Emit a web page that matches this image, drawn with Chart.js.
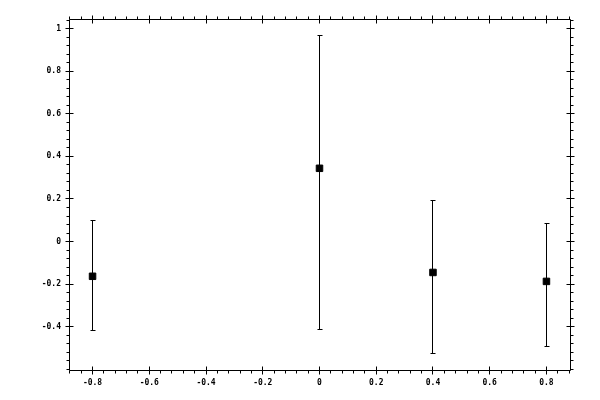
<!DOCTYPE html>
<html>
<head>
<meta charset="utf-8">
<script src="https://cdn.jsdelivr.net/npm/chart.js@4/dist/chart.umd.min.js"></script>
<style>
  html, body { margin: 0; padding: 0; background: #fff; }
  #wrap { width: 600px; height: 400px; }
</style>
</head>
<body>
<div id="wrap"><canvas id="chart"></canvas></div>
<script>
// ---- data ----
const xValues = [-0.8, 0, 0.4, 0.8];
const yValues = [-0.163, 0.344, -0.145, -0.187];
const yLower  = [-0.417, -0.412, -0.525, -0.492];
const yUpper  = [0.0995, 0.968, 0.193, 0.085];

const xTicks = [-0.8, -0.6, -0.4, -0.2, 0, 0.2, 0.4, 0.6, 0.8];
const yTicks = [-0.4, -0.2, 0, 0.2, 0.4, 0.6, 0.8, 1];
const MINOR_STEP = 0.04;

const fmt = v => String(Number(v.toFixed(1)));

// minor tick values between axis bounds
function minorValues(min, max) {
  const out = [];
  const start = Math.ceil(min / MINOR_STEP);
  const end = Math.floor(max / MINOR_STEP);
  for (let i = start; i <= end; i++) out.push(i * MINOR_STEP);
  return out;
}

const crisp = v => Math.floor(v) + 0.5;

// ---- frame, ticks & error bars ----
const framePlugin = {
  id: 'frame',
  afterDatasetsDraw(chart) {
    const { ctx, chartArea: a, scales: { x, y } } = chart;
    const L = crisp(a.left), R = crisp(a.right), T = crisp(a.top), B = crisp(a.bottom);
    ctx.save();
    ctx.strokeStyle = '#000';
    ctx.lineWidth = 1;

    ctx.beginPath();
    ctx.rect(L, T, R - L, B - T);

    const MAJ = 4, MIN = 3;
    minorValues(x.min, x.max).forEach(v => {
      const px = crisp(x.getPixelForValue(v));
      ctx.moveTo(px, B); ctx.lineTo(px, B + MIN);
      ctx.moveTo(px, T); ctx.lineTo(px, T - MIN);
    });
    xTicks.forEach(v => {
      const px = crisp(x.getPixelForValue(v));
      ctx.moveTo(px, B - MAJ); ctx.lineTo(px, B + MAJ);
      ctx.moveTo(px, T - MAJ); ctx.lineTo(px, T + MAJ);
    });
    minorValues(y.min, y.max).forEach(v => {
      const py = crisp(y.getPixelForValue(v));
      ctx.moveTo(L, py); ctx.lineTo(L - MIN, py);
      ctx.moveTo(R, py); ctx.lineTo(R + MIN, py);
    });
    yTicks.forEach(v => {
      const py = crisp(y.getPixelForValue(v));
      ctx.moveTo(L - MAJ, py); ctx.lineTo(L + MAJ, py);
      ctx.moveTo(R - MAJ, py); ctx.lineTo(R + MAJ, py);
    });
    ctx.stroke();

    // error bars with small caps
    ctx.beginPath();
    xValues.forEach((xv, i) => {
      const px = crisp(x.getPixelForValue(xv));
      const lo = crisp(y.getPixelForValue(yLower[i]));
      const hi = crisp(y.getPixelForValue(yUpper[i]));
      ctx.moveTo(px, lo); ctx.lineTo(px, hi);
      ctx.moveTo(px - 2, lo); ctx.lineTo(px + 3, lo);
      ctx.moveTo(px - 2, hi); ctx.lineTo(px + 3, hi);
    });
    ctx.stroke();
    ctx.restore();
  }
};

const tickFont = { family: 'DejaVu Sans Mono', size: 8, weight: 'bold' };

new Chart(document.getElementById('chart'), {
  type: 'scatter',
  data: {
    datasets: [{
      data: xValues.map((xv, i) => ({ x: xv, y: yValues[i] })),
      pointStyle: 'rect',
      pointRadius: 4.6,
      pointHoverRadius: 4.6,
      backgroundColor: '#000',
      borderColor: '#000',
      borderWidth: 1,
    }]
  },
  options: {
    responsive: true,
    maintainAspectRatio: false,
    animation: false,
    layout: { padding: { top: 19, right: 30, left: 0, bottom: 0 } },
    plugins: { legend: { display: false }, tooltip: { enabled: false } },
    scales: {
      x: {
        type: 'linear',
        min: -0.883,
        max: 0.883,
        grid: { display: false, drawTicks: false },
        border: { display: false },
        afterBuildTicks: s => { s.ticks = xTicks.map(v => ({ value: v })); },
        afterFit: s => { s.height = 30; },
        ticks: { color: '#000', font: tickFont, padding: 8, maxRotation: 0, callback: fmt }
      },
      y: {
        type: 'linear',
        min: -0.603,
        max: 1.045,
        grid: { display: false, drawTicks: false },
        border: { display: false },
        afterBuildTicks: s => { s.ticks = yTicks.map(v => ({ value: v })); },
        afterFit: s => { s.width = 69; },
        ticks: { color: '#000', font: tickFont, padding: 8, callback: fmt }
      }
    }
  },
  plugins: [framePlugin]
});
</script>
</body>
</html>
